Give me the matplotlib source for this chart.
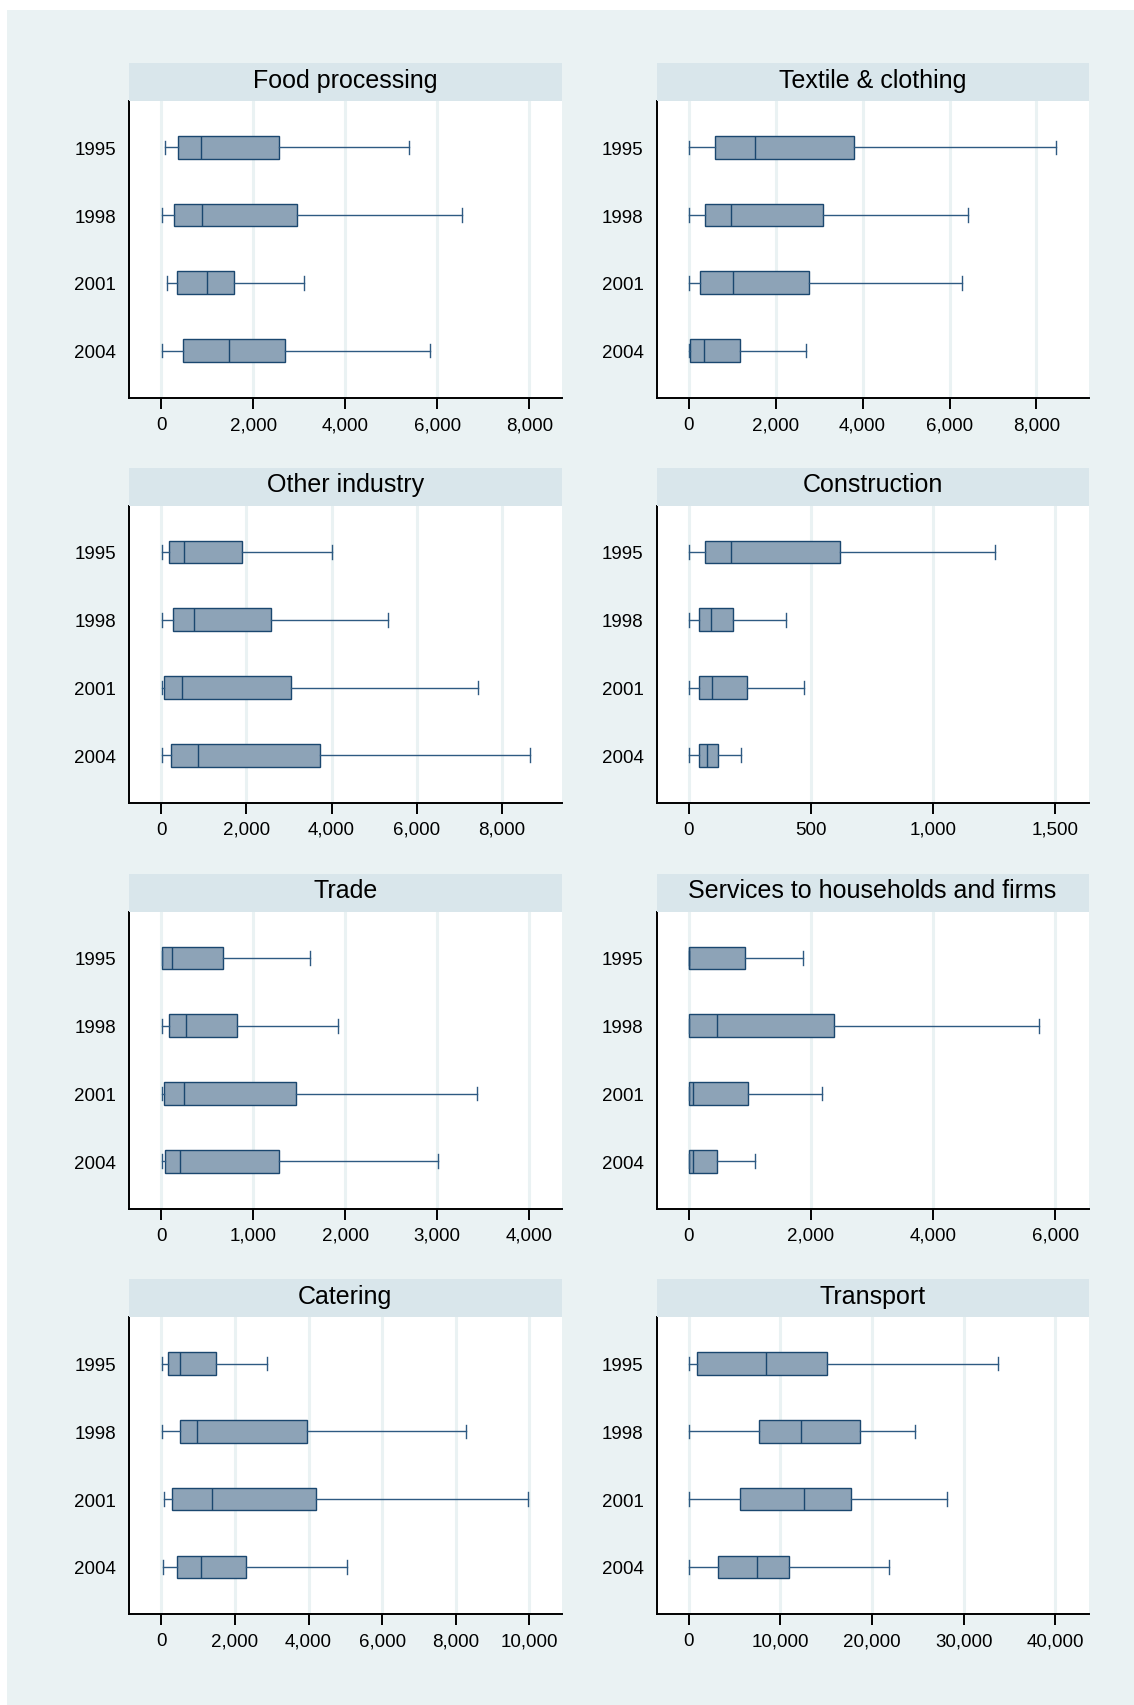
import matplotlib.pyplot as plt
from matplotlib.patches import Rectangle
from matplotlib.ticker import FuncFormatter

plt.rcParams['font.family'] = ['Liberation Sans', 'DejaVu Sans']

years = ['1995', '1998', '2001', '2004']

sectors = ['Food processing', 'Textile & clothing', 'Other industry', 'Construction',
           'Trade', 'Services to households and firms', 'Catering', 'Transport']

# per sector, per year: lower whisker, Q1, median, Q3, upper whisker
food = [[87, 371, 869, 2567, 5386],
        [16, 268, 877, 2953, 6539],
        [126, 347, 1003, 1587, 3104],
        [8, 466, 1469, 2685, 5844]]
textile = [[0, 602, 1534, 3794, 8445],
           [0, 371, 981, 3093, 6433],
           [0, 272, 1014, 2763, 6276],
           [0, 25, 363, 1171, 2697]]
other = [[9, 171, 521, 1904, 4013],
         [26, 265, 760, 2578, 5336],
         [9, 60, 487, 3057, 7454],
         [9, 222, 854, 3723, 8658]]
construction = [[0, 65, 172, 620, 1251],
                [0, 40, 92, 183, 396],
                [0, 44, 97, 239, 471],
                [0, 44, 76, 120, 214]]
trade = [[4, 12, 111, 671, 1615],
         [4, 79, 265, 821, 1919],
         [4, 32, 241, 1461, 3436],
         [4, 39, 201, 1279, 3013]]
services = [[0, 6, 12, 927, 1877],
            [0, 12, 469, 2375, 5730],
            [0, 6, 65, 979, 2182],
            [0, 6, 65, 469, 1085]]
catering = [[30, 178, 494, 1481, 2883],
            [10, 503, 967, 3959, 8273],
            [69, 286, 1372, 4215, 9971],
            [49, 415, 1066, 2310, 5054]]
transport = [[0, 860, 8407, 15054, 33744],
             [0, 7664, 12239, 18651, 24633],
             [0, 5591, 12590, 17752, 28191],
             [0, 3206, 7429, 10948, 21818]]

all_data = [food, textile, other, construction, trade, services, catering, transport]

x_ticks = [[0, 2000, 4000, 6000, 8000],
           [0, 2000, 4000, 6000, 8000],
           [0, 2000, 4000, 6000, 8000],
           [0, 500, 1000, 1500],
           [0, 1000, 2000, 3000, 4000],
           [0, 2000, 4000, 6000],
           [0, 2000, 4000, 6000, 8000, 10000],
           [0, 10000, 20000, 30000, 40000]]
x_lims = [(-704, 8704), (-735, 9197), (-761, 9409), (-131, 1635),
          (-352, 4352), (-522, 6540), (-880, 10880), (-3484, 43600)]

W, H = 1134, 1706
fig = plt.figure(figsize=(W / 100, H / 100), dpi=100, facecolor='white')
fig.patches.append(Rectangle((7 / W, 0), 1 - 7 / W, 1 - 11 / H, transform=fig.transFigure,
                             facecolor='#EAF2F3', edgecolor='none', zorder=-10))

navy = '#1A476F'
col_x = [(129, 561.6), (656.7, 1088.5)]
row_top = [102, 506.7, 912.7, 1318.3]
ax_h = 297
band_h = 38

for i, name in enumerate(sectors):
    r, c = divmod(i, 2)
    x0, x1 = col_x[c]
    top = row_top[r]
    ax = fig.add_axes([x0 / W, 1 - (top + ax_h) / H, (x1 - x0) / W, ax_h / H])
    ax.set_facecolor('white')

    # title band
    band = fig.add_axes([x0 / W, 1 - top / H, (x1 - x0) / W, band_h / H])
    band.set_facecolor('#D9E6EB')
    band.set_xticks([])
    band.set_yticks([])
    for s in band.spines.values():
        s.set_visible(False)
    band.text(0.5, 0.56, name, ha='center', va='center', fontsize=18, color='black')

    stats = []
    for y, (lo, q1, med, q3, hi) in zip(years, all_data[i]):
        stats.append({'whislo': lo, 'q1': q1, 'med': med, 'q3': q3, 'whishi': hi,
                      'fliers': [], 'label': y})
    ax.bxp(stats, positions=[4, 3, 2, 1], widths=0.335, orientation='horizontal',
           patch_artist=True, showfliers=False, capwidths=0.2,
           boxprops=dict(facecolor='#8DA3B7', edgecolor=navy, linewidth=1.0),
           medianprops=dict(color=navy, linewidth=1.0),
           whiskerprops=dict(color='#2E5A82', linewidth=1.0),
           capprops=dict(color='#2E5A82', linewidth=1.0))

    ax.set_ylim(0.3, 4.683)
    ax.set_xlim(*x_lims[i])
    ax.set_xticks(x_ticks[i])
    ax.xaxis.set_major_formatter(FuncFormatter(lambda v, p: f'{v:,.0f}'))
    ax.grid(axis='x', color='#EAF2F3', linewidth=2.2, zorder=0)
    ax.set_axisbelow(True)
    ax.spines['top'].set_visible(False)
    ax.spines['right'].set_visible(False)
    ax.spines['left'].set_linewidth(1.4)
    ax.spines['bottom'].set_linewidth(1.4)
    ax.tick_params(axis='x', length=8, width=1.4, pad=5, labelsize=13.5)
    ax.tick_params(axis='y', length=0, pad=9.5, labelsize=13.5)

fig.savefig('out.png', dpi=100, facecolor=fig.get_facecolor())
